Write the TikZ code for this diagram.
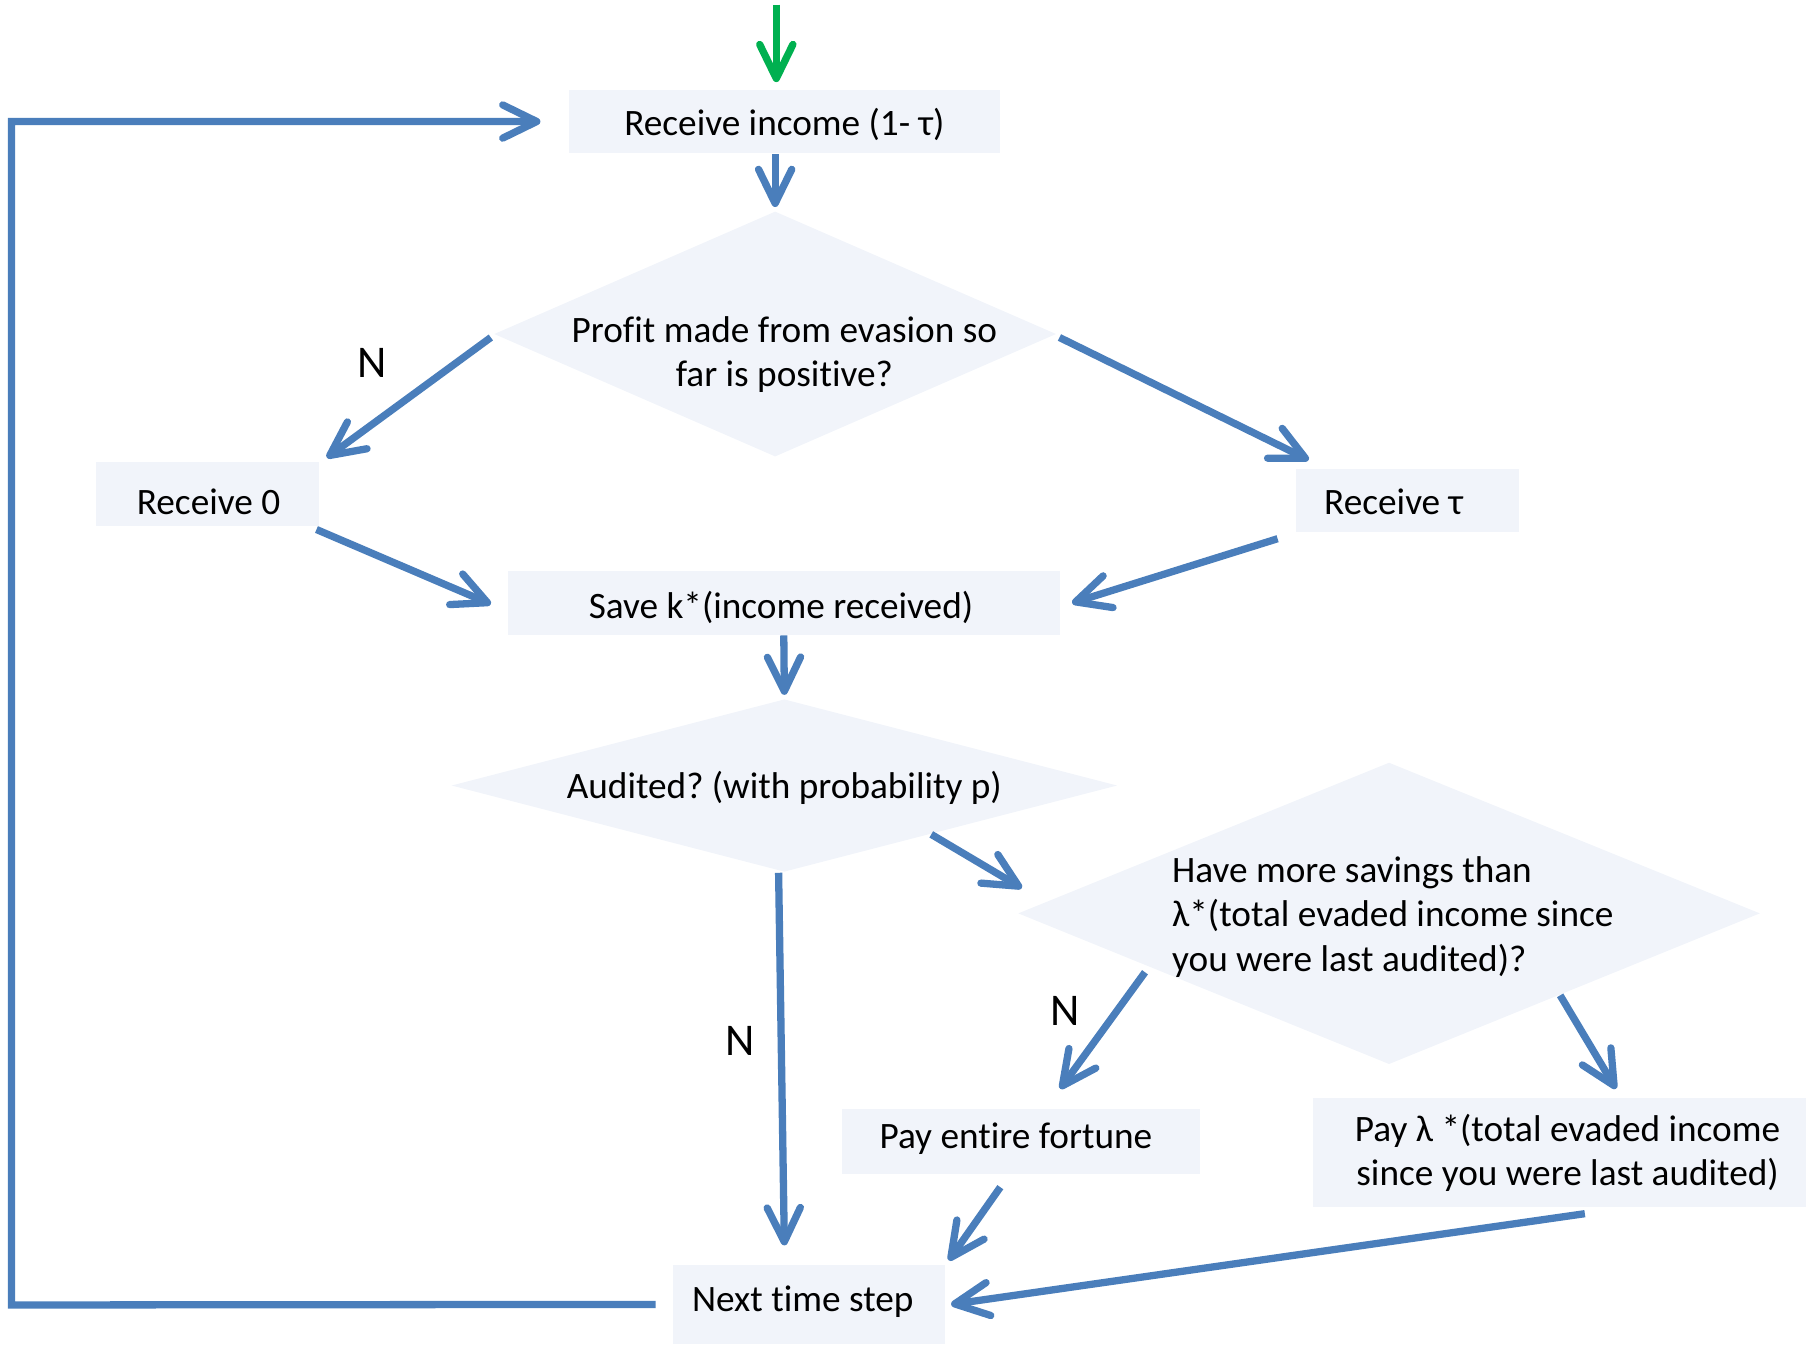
\documentclass[tikz,border=0pt]{standalone}
\usepackage{fontspec}
\setmainfont{Carlito}[Ligatures={CommonOff}]
\usetikzlibrary{arrows.meta,shapes.geometric,calc}
\definecolor{ln}{RGB}{74,126,187}
\definecolor{gr}{RGB}{0,176,80}
\definecolor{bx}{RGB}{241,244,250}
\newcommand\mysz{\fontsize{9.2pt}{10.95pt}\selectfont}
\frenchspacing
\begin{document}
\begin{tikzpicture}[x=0.01cm,y=-0.01cm,
  box/.style={fill=bx, inner sep=0pt},
  dia/.style={diamond, fill=bx, inner sep=0pt, aspect=1},
  txt/.style={inner sep=0pt, font=\mysz, align=center},
  nlab/.style={inner sep=0pt, font=\fontsize{11.2pt}{13pt}\selectfont},
  flow/.style={draw=ln, line width=1.8pt, -{Straight Barb[length=8.4pt,width=8.2pt,round]}}
]
\useasboundingbox (0,0) rectangle (1568,1169);

% shapes
\node[box, minimum width=3.74cm, minimum height=0.55cm] (inc) at (681,105.5) {};
\node[dia, minimum width=4.88cm, minimum height=2.13cm] (d1) at (673,290) {};
\node[box, minimum width=1.94cm, minimum height=0.56cm] (r0) at (180,429) {};
\node[box, minimum width=1.94cm, minimum height=0.55cm] (rt) at (1222,434.5) {};
\node[box, minimum width=4.79cm, minimum height=0.55cm] (save) at (680.5,523.5) {};
\node[dia, minimum width=5.78cm, minimum height=1.50cm] (d2) at (681,682) {};
\node[dia, minimum width=6.44cm, minimum height=2.62cm] (d3) at (1206,793) {};
\node[box, minimum width=3.11cm, minimum height=0.56cm] (pay) at (886.5,991) {};
\node[box, minimum width=4.28cm, minimum height=0.95cm] (payl) at (1354,1000.5) {};
\node[box, minimum width=2.36cm, minimum height=0.69cm] (next) at (702,1132.5) {};

% texts
\node[txt] (incT) at (681,108) {Receive income (1- τ)};
\node[txt] (d1T) at (681,308) {Profit made from evasion so\\far is positive?};
\node[txt] (r0T) at (181,436) {Receive 0};
\node[txt] (rtT) at (1210,436) {Receive τ};
\node[txt] (saveT) at (678,527) {Save k*(income received)};
\node[txt] (d2T) at (681,684) {Audited? (with probability p)};
\node[txt, align=left, anchor=west] (d3T) at (1017,796) {Have more savings than\\λ*(total evaded income since\\you were last audited)?};
\node[txt] (payT) at (882,989) {Pay entire fortune};
\node[txt] (paylT) at (1361,1001) {Pay λ *(total evaded income\\since you were last audited)};
\node[txt] (nextT) at (697,1130) {Next time step};

\node[nlab] (n1) at (323,315) {N};
\node[nlab] (n2) at (643,904) {N};
\node[nlab] (n3) at (925,878) {N};

% connectors
\coordinate (gstart) at (674,4);
\coordinate (lp) at (10,1133);
\draw[flow, draw=gr] (gstart) -- ($(gstart |- inc.north)+(0,-6)$);
\draw[flow] ($(next.west)+(-14,0)$) -- (lp) |- ($(inc.west)+(-24,0)$);
\draw[flow] (inc.south -| d1.north) -- ($(d1.north)+(0,-3)$);
\draw[flow] ($(d1.west)+(-2,3)$) -- ($(r0.north east)+(6,-3)$);
\draw[flow] ($(d1.east)+(2,3)$) -- ($(rt.north west)+(12,-7)$);
\draw[flow] ($(r0.south east)+(-3,2)$) -- ($(save.west)+(-14,1)$);
\draw[flow] ($(rt.south west)+(-15,5)$) -- ($(save.east)+(10,0)$);
\draw[flow] (save.south) -- ($(d2.north)+(0,-3)$);
\draw[flow] ($(d2.south)+(-5,0)$) -- ($(d2.south |- next.north)+(0,-16)$);
\draw[flow] ($(d2.south)!0.44!(d2.east)$) -- ($(d3.west)+(4,-22)$);
\draw[flow] ($(d3.west)!0.35!(d3.south)+(-2,5)$) -- ($(pay.north)+(34,-17)$);
\draw[flow] ($(d3.south)!0.46!(d3.east)$) -- ($(payl.north)+(49,-7)$);
\draw[flow] ($(pay.south)+(-18,11)$) -- ($(next.north east)+(3,-3)$);
\draw[flow] ($(payl.south)+(22,5)$) -- ($(next.east)+(5,0)$);
\end{tikzpicture}
\end{document}
